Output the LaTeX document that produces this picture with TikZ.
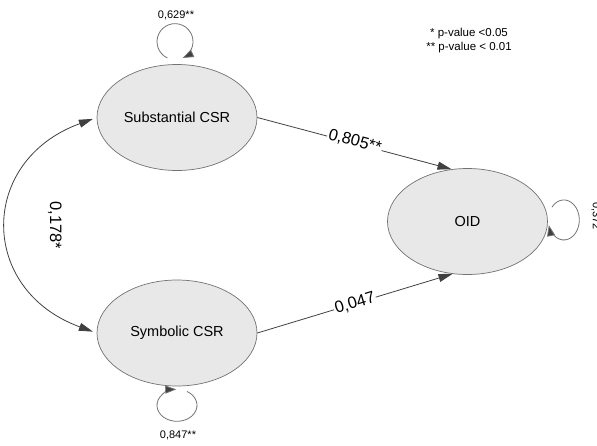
\documentclass[tikz,border=0pt]{standalone}
\usepackage{fontspec}
\setmainfont{Liberation Sans}
\usetikzlibrary{arrows.meta,shapes.geometric}

\begin{document}
\begin{tikzpicture}[x=1pt,y=1pt,
  latent/.style={ellipse,draw=black!55,fill=black!9,line width=0.7pt,minimum width=160pt,minimum height=106pt,inner sep=0pt,font=\fontsize{14.5}{17}\selectfont},
  regline/.style={draw=black!75,line width=0.8pt,-{Triangle[length=14pt,width=8pt]}},
  covline/.style={draw=black!75,line width=0.8pt,{Triangle[length=14pt,width=8pt]}-{Triangle[length=14pt,width=8pt]},shorten <=4pt,shorten >=4pt},
  resloop/.style={draw=black!55,line width=0.8pt,-{Triangle[length=11pt,width=8pt,fill=black!75]}},
  coef/.style={fill=white,inner sep=1pt,font=\fontsize{16.5}{19}\selectfont},
  varlab/.style={inner sep=0pt,font=\fontsize{11}{13}\selectfont}]
\useasboundingbox (0,0) rectangle (597,-445);
\node [latent] (sub) at (177,-117.5) {Substantial CSR};
\node [latent] (sym) at (177,-333) {Symbolic CSR};
\node [latent] (oid) at (467.5,-221.5) {OID};
\draw [regline] (sub.east) -- (oid.107) node [coef,pos=0.5,sloped,yshift=2pt] {0,805**};
\draw [regline] (sym.east) -- (oid.254) node [coef,pos=0.5,sloped] {0,047};
\draw [covline] (sub.west) to [out=200,in=160,looseness=1.5] node [coef,fill=none,rotate=-90,pos=0.5,yshift=47pt] {0,178*} (sym.west);
\coordinate (subres) at ([xshift=-9.6pt,yshift=6.2pt]sub.north);
\coordinate (symres) at ([xshift=10pt,yshift=-5.1pt]sym.south);
\coordinate (oidres) at ([xshift=4.1pt,yshift=14.4pt]oid.east);
\draw [resloop] (subres) arc [start angle=245,end angle=-65,radius=18];
\draw [resloop] (symres) arc [start angle=60,end angle=-268,x radius=20,y radius=16];
\draw [resloop] (oidres) arc [start angle=140,end angle=-165,x radius=15.5,y radius=20];
\node [varlab] (subvar) at (176,-15) {0,629**};
\node [varlab] (symvar) at (178,-435) {0,847**};
\node [varlab,rotate=-90] (oidvar) at (596,-216) {0,372};
\node [align=center,inner sep=0pt,font=\fontsize{11.5}{14}\selectfont] (note) at (469,-41) {* p-value <0.05\\** p-value < 0.01};
\end{tikzpicture}
\end{document}
